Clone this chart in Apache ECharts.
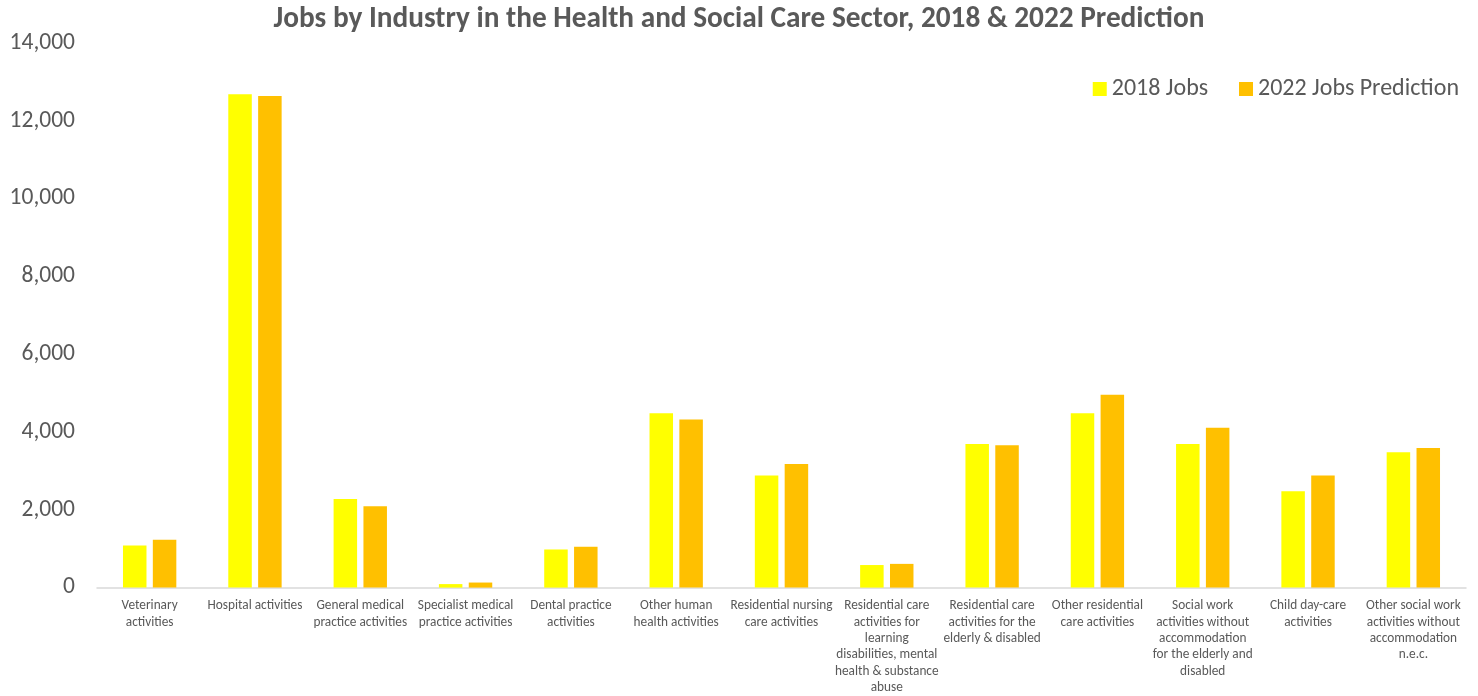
<!DOCTYPE html>
<html>
<head>
<meta charset="utf-8">
<script src="https://cdn.jsdelivr.net/npm/echarts@6/dist/echarts.min.js"></script>
<style>
  html, body { margin: 0; padding: 0; background: #ffffff; }
  #chart { width: 1478px; height: 696px; }
</style>
</head>
<body>
<div id="chart"></div>
<script>
// Industry categories (line breaks as they wrap under the axis)
const categories = [
  'Veterinary\nactivities',
  'Hospital activities',
  'General medical\npractice activities',
  'Specialist medical\npractice activities',
  'Dental practice\nactivities',
  'Other human\nhealth activities',
  'Residential nursing\ncare activities',
  'Residential care\nactivities for\nlearning\ndisabilities, mental\nhealth & substance\nabuse',
  'Residential care\nactivities for the\nelderly & disabled',
  'Other residential\ncare activities',
  'Social work\nactivities without\naccommodation\nfor the elderly and\ndisabled',
  'Child day-care\nactivities',
  'Other social work\nactivities without\naccommodation\nn.e.c.'
];

const jobs2018 = [1080, 12680, 2280, 90, 980, 4480, 2880, 580, 3690, 4480, 3690, 2480, 3480];
const jobs2022 = [1230, 12640, 2090, 130, 1050, 4320, 3180, 610, 3660, 4960, 4110, 2880, 3590];

const yTicks = { min: 0, max: 14000, interval: 2000 };

const textColor = '#595959';
const fontStack = "Carlito, 'Open Sans', 'Liberation Sans', sans-serif";

const chart = echarts.init(document.getElementById('chart'));
chart.setOption({
  backgroundColor: '#ffffff',
  animation: false,
  title: {
    text: 'Jobs by Industry in the Health and Social Care Sector, 2018 & 2022 Prediction',
    left: 'center',
    top: 0,
    textStyle: { fontFamily: fontStack, fontSize: 29.3, fontWeight: 'bold', color: textColor }
  },
  legend: {
    right: 14,
    top: 72,
    itemWidth: 14,
    itemHeight: 14,
    itemGap: 31,
    icon: 'rect',
    textStyle: { fontFamily: fontStack, fontSize: 24, color: textColor },
    data: ['2018 Jobs', '2022 Jobs Prediction']
  },
  grid: { left: 97, right: 12, top: 43, bottom: 98 },
  xAxis: {
    type: 'category',
    data: categories,
    axisLine: { lineStyle: { color: '#d9d9d9', width: 1.5 } },
    axisTick: { show: false },
    axisLabel: {
      interval: 0,
      margin: 10,
      fontFamily: fontStack,
      fontSize: 13.3,
      lineHeight: 16.4,
      color: textColor,
      align: 'center'
    }
  },
  yAxis: {
    type: 'value',
    min: yTicks.min,
    max: yTicks.max,
    interval: yTicks.interval,
    splitLine: { show: false },
    axisLine: { show: false },
    axisTick: { show: false },
    axisLabel: {
      margin: 22,
      fontFamily: fontStack,
      fontSize: 23.5,
      color: textColor,
      formatter: v => v.toLocaleString('en-US')
    }
  },
  series: [
    {
      name: '2018 Jobs',
      type: 'bar',
      data: jobs2018,
      barWidth: 23.5,
      barGap: '27%',
      itemStyle: { color: '#FFFF00' }
    },
    {
      name: '2022 Jobs Prediction',
      type: 'bar',
      data: jobs2022,
      barWidth: 23.5,
      barGap: '27%',
      itemStyle: { color: '#FFC000' }
    }
  ]
});
</script>
</body>
</html>
